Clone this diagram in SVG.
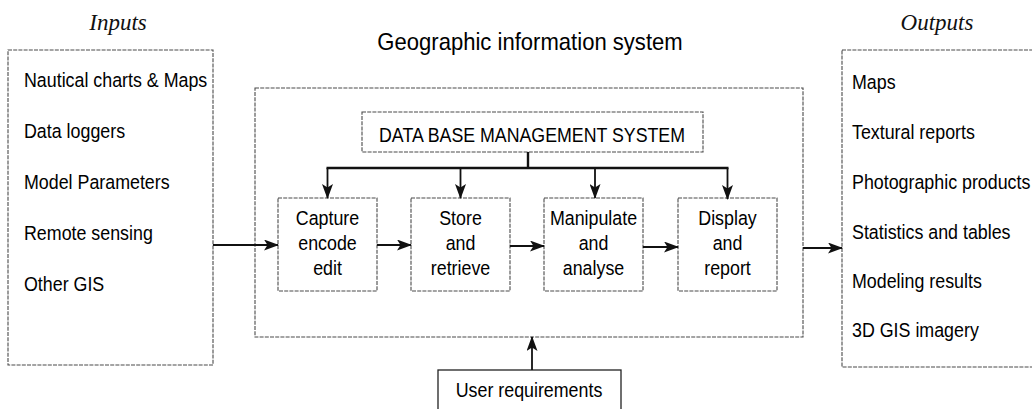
<svg xmlns="http://www.w3.org/2000/svg" width="1032" height="409" viewBox="0 0 1032 409">
  <style>
    .frame { fill: none; stroke: #4a4a4a; stroke-width: 1.1; stroke-dasharray: 4 1.2; }
    .solid { fill: none; stroke: #222; stroke-width: 1.3; }
    .t { font-family: "Liberation Sans", Arial, sans-serif; font-size: 20.5px; fill: #000; }
    .c { text-anchor: middle; }
    .head { font-family: "Liberation Serif", "Times New Roman", serif; font-style: italic; font-size: 23px; fill: #111; text-anchor: middle; }
    .title { font-family: "Liberation Sans", Arial, sans-serif; font-size: 24px; fill: #000; text-anchor: middle; }
    .link { fill: none; stroke: #111; stroke-width: 1.8; }
    .bus { fill: none; stroke: #111; stroke-width: 2.4; }
  </style>
  <defs>
    <marker id="arrow" viewBox="0 0 15 11" refX="14" refY="5.5" markerWidth="15" markerHeight="11" markerUnits="userSpaceOnUse" orient="auto">
      <path d="M0,0 L15,5.5 L0,11 L3.5,5.5 z" fill="#111"/>
    </marker>
  </defs>

  <rect width="1032" height="409" fill="#fff"/>

  <!-- headings -->
  <text class="head" x="118" y="30">Inputs</text>
  <text class="head" x="937" y="30">Outputs</text>
  <text class="title" transform="translate(530,50) scale(.92,1)">Geographic information system</text>

  <!-- input sources -->
  <g id="inputs">
    <rect class="frame" x="8" y="50" width="205" height="315"/>
    <text class="t" transform="translate(24,87) scale(.87,1)">Nautical charts &amp; Maps</text>
    <text class="t" transform="translate(24,138) scale(.87,1)">Data loggers</text>
    <text class="t" transform="translate(24,189) scale(.87,1)">Model Parameters</text>
    <text class="t" transform="translate(24,240) scale(.87,1)">Remote sensing</text>
    <text class="t" transform="translate(24,291) scale(.87,1)">Other GIS</text>
  </g>

  <!-- GIS container -->
  <g id="gis">
    <rect class="frame" x="255" y="88" width="548" height="249"/>
  </g>

  <g id="dbms">
    <rect class="frame" x="362" y="112" width="341" height="40"/>
    <text class="t c" transform="translate(532,142) scale(.867,1)">DATA BASE MANAGEMENT SYSTEM</text>
  </g>

  <g id="capture">
    <rect class="frame" x="278" y="198" width="99" height="93"/>
    <text class="t c" transform="translate(327.5,225) scale(.87,1)">Capture</text>
    <text class="t c" transform="translate(327.5,250) scale(.87,1)">encode</text>
    <text class="t c" transform="translate(327.5,275) scale(.87,1)">edit</text>
  </g>

  <g id="store">
    <rect class="frame" x="411" y="198" width="99" height="93"/>
    <text class="t c" transform="translate(460.5,225) scale(.87,1)">Store</text>
    <text class="t c" transform="translate(460.5,250) scale(.87,1)">and</text>
    <text class="t c" transform="translate(460.5,275) scale(.87,1)">retrieve</text>
  </g>

  <g id="manipulate">
    <rect class="frame" x="544" y="198" width="99" height="93"/>
    <text class="t c" transform="translate(593.5,225) scale(.87,1)">Manipulate</text>
    <text class="t c" transform="translate(593.5,250) scale(.87,1)">and</text>
    <text class="t c" transform="translate(593.5,275) scale(.87,1)">analyse</text>
  </g>

  <g id="display">
    <rect class="frame" x="678" y="198" width="99" height="93"/>
    <text class="t c" transform="translate(727.5,225) scale(.87,1)">Display</text>
    <text class="t c" transform="translate(727.5,250) scale(.87,1)">and</text>
    <text class="t c" transform="translate(727.5,275) scale(.87,1)">report</text>
  </g>

  <g id="user">
    <rect class="solid" x="438" y="370" width="183" height="50"/>
    <text class="t c" transform="translate(529,397) scale(.87,1)">User requirements</text>
  </g>

  <!-- output products -->
  <g id="outputs">
    <rect class="frame" x="842" y="50" width="200" height="317"/>
    <text class="t" transform="translate(852,89) scale(.87,1)">Maps</text>
    <text class="t" transform="translate(852,139) scale(.87,1)">Textural reports</text>
    <text class="t" transform="translate(852,189) scale(.87,1)">Photographic products</text>
    <text class="t" transform="translate(852,239) scale(.87,1)">Statistics and tables</text>
    <text class="t" transform="translate(852,288) scale(.87,1)">Modeling results</text>
    <text class="t" transform="translate(852,337) scale(.87,1)">3D GIS imagery</text>
  </g>

  <!-- connectors -->
  <g id="connectors">
    <path class="bus" d="M528,152 V168 M326.5,168 H728.5"/>
    <path class="link" d="M327.5,168 V198" marker-end="url(#arrow)"/>
    <path class="link" d="M460.5,168 V198" marker-end="url(#arrow)"/>
    <path class="link" d="M595,168 V198" marker-end="url(#arrow)"/>
    <path class="link" d="M727.5,168 V199" marker-end="url(#arrow)"/>
    <path class="link" d="M213,245 H278" marker-end="url(#arrow)"/>
    <path class="link" d="M377,245 H411" marker-end="url(#arrow)"/>
    <path class="link" d="M510,246 H544" marker-end="url(#arrow)"/>
    <path class="link" d="M643,247 H678" marker-end="url(#arrow)"/>
    <path class="link" d="M803,248 H842" marker-end="url(#arrow)"/>
    <path class="link" d="M532,370 V337" marker-end="url(#arrow)"/>
  </g>
</svg>
